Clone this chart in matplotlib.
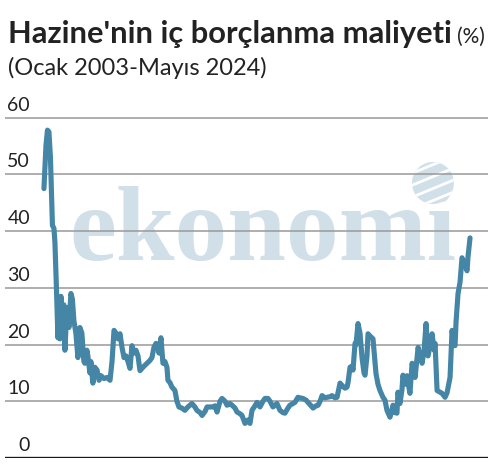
import matplotlib
matplotlib.use('Agg')
import matplotlib.pyplot as plt
import matplotlib.transforms as mtransforms
from matplotlib.patches import Ellipse
import numpy as np

# month index counted from Ocak 2003 (0) to Mayis 2024 (256)
months = [0, 1.2, 2.1, 3.0, 3.9, 5.1, 6.0, 6.6, 7.5, 8.4, 9.0, 9.6, 10.2, 11.1, 12.0,
          12.6, 13.8, 15.0, 16.2, 17.1, 18.0, 19.2, 20.4, 21.6, 22.8, 24.0, 24.6, 25.8,
          26.4, 27.6, 28.2, 29.4, 30.6, 31.9, 33.1, 34.3, 36.1, 37.9, 39.7, 40.9, 42.1,
          43.3, 44.5, 45.7, 46.9, 48.1, 49.3, 50.5, 51.7, 52.9, 54.1, 55.3, 56.5, 57.7,
          59.5, 61.9, 63.7, 64.9, 66.1, 67.3, 68.5, 69.1, 70.3, 71.5, 72.7, 73.9, 74.5,
          75.7, 76.9, 78.7, 79.9, 81.1, 82.9, 84.7, 86.5, 88.9, 90.7, 91.9, 93.8, 95.0,
          96.8, 98.0, 99.8, 101.6, 102.8, 104.0, 105.8, 107.0, 108.8, 110.0, 111.8, 113.0,
          114.8, 116.0, 117.8, 119.0, 120.8, 122.6, 123.8, 125.0, 126.8, 128.0, 129.8,
          131.6, 132.8, 134.6, 135.8, 137.6, 138.8, 140.0, 141.8, 143.6, 144.8, 146.6,
          147.8, 149.6, 150.8, 152.6, 153.8, 155.6, 157.5, 158.7, 160.5, 161.7, 163.5,
          164.7, 165.9, 167.1, 168.9, 170.1, 171.9, 173.1, 174.9, 176.1, 177.9, 179.7,
          180.9, 182.1, 182.7, 183.9, 185.1, 185.7, 186.9, 187.5, 188.7, 189.9, 191.1,
          192.3, 192.9, 194.1, 194.7, 195.9, 197.7, 198.9, 199.5, 200.7, 201.9, 203.7,
          204.9, 206.1, 207.9, 209.1, 209.7, 210.9, 212.1, 212.7, 213.9, 215.1, 215.7,
          216.9, 218.1, 219.9, 221.2, 223.0, 223.6, 224.8, 226.0, 227.2, 228.4, 229.6,
          230.8, 232.0, 233.2, 234.4, 235.0, 235.6, 236.2, 238.0, 239.2, 241.0, 242.2,
          244.0, 245.2, 246.4, 247.0, 247.6, 248.8, 250.0, 251.2, 252.4, 254.2, 254.8,
          256.0]
cost = [47.5, 55, 57.8, 57.5, 53, 41, 40.5, 38, 30, 21.2, 27, 21, 28.5, 22, 27,
        19, 26.5, 23, 29, 28, 24.2, 22, 17.7, 23, 22, 17, 16.7, 19,
        18, 15, 17, 13.2, 16, 15.5, 13.7, 14.5, 14, 14.2, 13.7, 17, 22.5,
        22, 21, 21.9, 19.5, 17.7, 18, 17, 15.8, 19.8, 18.5, 19, 18, 15.4,
        16, 16.7, 17.2, 17.7, 19.5, 20.2, 20, 18.5, 21.2, 16.7, 17, 16, 13.7,
        13.3, 12.5, 11.9, 10, 9.0, 8.8, 8.4, 9.0, 9.6, 9.0, 8.4, 8.0, 7.5,
        8.2, 9.0, 9.0, 9.0, 9.2, 8.1, 10.0, 10.5, 10, 9.3, 9.6, 9.3,
        8.8, 8.1, 7.8, 7.5, 6.1, 6.7, 6.1, 8.4, 9.2, 9.8, 9.0,
        10, 10.5, 10.5, 10, 9.0, 9.3, 9.6, 8.4, 8.0, 7.9, 8.8,
        9.3, 9.6, 9.8, 10.7, 10.6, 10.5, 10.2, 9.8, 9.2, 8.8, 9.2,
        9.3, 10.0, 11, 10.6, 10.7, 10.8, 11, 10.6, 10.7, 13.2, 12.6,
        12.3, 12.5, 13.3, 16, 16.2, 15.5, 20.2, 20, 23.7, 22, 17.7,
        15, 14.6, 18, 21.9, 21.5, 21, 17, 14.9, 13, 11.9, 10.7,
        10.2, 8.4, 7.2, 8.5, 9.3, 8.0, 7.9, 11.6, 9.6, 12, 14.6,
        13, 14.5, 11.4, 16.7, 14.2, 16, 19.5, 18, 16.7, 19, 23.7,
        18, 20, 21.9, 19, 20.2, 16, 11.9, 11.6, 11.4, 10.7, 11.5,
        14.2, 22.5, 20, 19.8, 24, 29, 31, 35.3, 34.5, 33, 35.5,
        38.8]
yticks = [0, 10, 20, 30, 40, 50, 60]

title = "Hazine'nin iç borçlanma maliyeti"
unit = "(%)"
subtitle = "(Ocak 2003-Mayıs 2024)"

plt.rcParams['font.family'] = ['Lato', 'DejaVu Sans']
text_color = '#222222'
line_color = '#4585a6'
mark_color = '#d1e0e8'

fig = plt.figure(figsize=(5.0, 4.68), dpi=100)
ax = fig.add_axes([0.01, 0.0214, 0.966, 0.7308])
ax.set_xlim(-23.4, 266.8)
ax.set_ylim(0, 60.3)

# watermark
ax.text(0.534, 0.579, 'ekonomi', transform=ax.transAxes, ha='center', va='baseline',
        fontsize=76, fontweight='bold', family='Liberation Serif', color=mark_color,
        zorder=0)
globe = Ellipse((0.886, 0.804), 0.087, 0.123, transform=ax.transAxes,
                facecolor=mark_color, edgecolor='none', zorder=0)
ax.add_patch(globe)
for k in range(4):
    stripe, = ax.plot([0.83, 0.95], [0.72 + k * 0.035, 0.79 + k * 0.035],
                      transform=ax.transAxes, color='white', lw=2.0, zorder=0)
    stripe.set_clip_path(globe)

for v in yticks[1:]:
    ax.axhline(v, color='#999999', lw=1.1, zorder=1)
ax.axhline(0, color='#1a1a1a', lw=2.4, zorder=3)

ax.plot(months, cost, color=line_color, lw=3.7, solid_joinstyle='round',
        solid_capstyle='round', zorder=2)

label_tr = mtransforms.offset_copy(ax.get_yaxis_transform(), fig=fig, x=0, y=5,
                                   units='points')
for v in yticks:
    ax.text(0.052, v, str(v), transform=label_tr, ha='right', va='baseline',
            fontsize=14, color=text_color)

ax.set_xticks([])
ax.set_yticks([])
for spine in ax.spines.values():
    spine.set_visible(False)
ax.patch.set_alpha(0)

t = fig.text(0.016, 0.908, title, fontsize=22.2, fontweight='bold', color=text_color,
             va='baseline')
fig.canvas.draw()
bb = t.get_window_extent()
fig.text(bb.x1 / 500 + 0.01, 0.908, unit, fontsize=15, color=text_color, va='baseline')
fig.text(0.016, 0.840, subtitle, fontsize=17, color=text_color, va='baseline')

fig.savefig('out.png', dpi=100)
